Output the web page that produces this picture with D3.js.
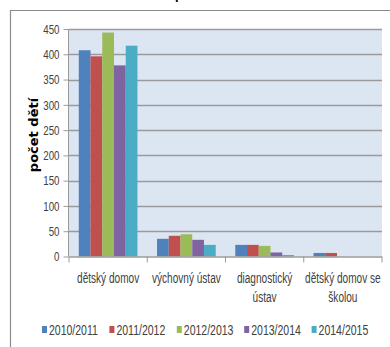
<!DOCTYPE html>
<html>
<head>
<meta charset="utf-8">
<script src="https://cdn.jsdelivr.net/npm/d3@7"></script>
<style>
  body { margin: 0; background: #fff; }
  svg { display: block; }
  .lbl { font-family: "Liberation Sans", Arial, sans-serif; fill: #404040; }
</style>
</head>
<body>
<div id="chart"></div>
<script>
// data
var categories = ["dětský domov", "výchovný ústav", "diagnostický ústav", "dětský domov se školou"];
var categoryLines = [["dětský domov"], ["výchovný ústav"], ["diagnostický", "ústav"], ["dětský domov se", "školou"]];
var years = ["2010/2011", "2011/2012", "2012/2013", "2013/2014", "2014/2015"];
var v2010 = [408, 35, 23, 7];
var v2011 = [396, 41, 23, 7];
var v2012 = [443, 44, 21, 0];
var v2013 = [378, 33, 8, 0];
var v2014 = [417, 23, 3, 0];
var yTicks = [0, 50, 100, 150, 200, 250, 300, 350, 400, 450];
var colors = ["#4f81bd", "#c0504d", "#9bbb59", "#8064a2", "#4bacc6"];

var series = [v2010, v2011, v2012, v2013, v2014];

var width = 390, height = 347;
var plotLeft = 69, plotRight = 382;

// squeeze text horizontally, narrow font look
function condense(sel, f) {
    sel.each(function() {
        var w = this.getComputedTextLength();
        d3.select(this).attr("textLength", w * f).attr("lengthAdjust", "spacingAndGlyphs");
    });
}

var svg = d3.select("#chart").append("svg")
    .attr("width", width)
    .attr("height", height);

// outer frame (only top and left visible)
svg.append("path")
    .attr("d", "M10.5,347 V10.5 H390")
    .attr("fill", "none")
    .attr("stroke", "#8c8c8c")
    .attr("stroke-width", 1.2);

// clipped title glyph at the very top
svg.append("text")
    .attr("x", 175)
    .attr("y", -1)
    .attr("font-family", "Liberation Sans, Arial, sans-serif")
    .attr("font-weight", "bold")
    .attr("font-size", 13)
    .attr("fill", "#000")
    .text("p");

var x0 = d3.scaleBand()
    .domain(categories)
    .range([plotLeft, plotRight])
    .paddingInner(0.25)
    .paddingOuter(0.125);

var x1 = d3.scaleBand()
    .domain(years)
    .range([0, x0.bandwidth()]);

var y = d3.scaleLinear()
    .domain([0, 450])
    .range([256.5, 29]);

// plot background
svg.append("rect")
    .attr("x", plotLeft)
    .attr("y", y(450))
    .attr("width", plotRight - plotLeft)
    .attr("height", y(0) - y(450))
    .attr("fill", "#dce6f2");

// gridlines
svg.append("g")
    .selectAll("line")
    .data(yTicks.filter(function(d) { return d > 0; }))
    .enter().append("line")
    .attr("x1", plotLeft)
    .attr("x2", plotRight)
    .attr("y1", function(d) { return Math.round(y(d)) + 0.5; })
    .attr("y2", function(d) { return Math.round(y(d)) + 0.5; })
    .attr("stroke", "#9a9a9a")
    .attr("stroke-width", 1.3);

// y axis
var yAxis = svg.append("g")
    .attr("transform", "translate(" + (plotLeft - 0.5) + ",0)")
    .call(d3.axisLeft(y).tickValues(yTicks).tickSize(5).tickPadding(4));
yAxis.select(".domain").attr("stroke", "#9a9a9a").attr("d", "M0," + y(450) + "V" + y(0));
yAxis.selectAll(".tick line").attr("stroke", "#9a9a9a");
yAxis.selectAll("text")
    .attr("class", "lbl")
    .attr("font-size", 13.5)
    .attr("fill", "#404040")
    .call(condense, 0.72);

// bars
var groups = svg.append("g")
    .selectAll("g")
    .data(categories)
    .enter().append("g")
    .attr("transform", function(d) { return "translate(" + x0(d) + ",0)"; });

groups.selectAll("rect")
    .data(function(d, i) { return years.map(function(yr, j) { return {year: yr, value: series[j][i], color: colors[j]}; }); })
    .enter().append("rect")
    .attr("x", function(d) { return x1(d.year); })
    .attr("y", function(d) { return y(d.value); })
    .attr("width", x1.bandwidth())
    .attr("height", function(d) { return y(0) - y(d.value); })
    .attr("fill", function(d) { return d.color; });

// x axis
var xAxis = svg.append("g");
xAxis.append("line")
    .attr("x1", plotLeft).attr("x2", plotRight)
    .attr("y1", y(0) + 0.5).attr("y2", y(0) + 0.5)
    .attr("stroke", "#9a9a9a").attr("stroke-width", 1.3);
xAxis.selectAll(".xt")
    .data(d3.range(categories.length + 1))
    .enter().append("line")
    .attr("x1", function(i) { return plotLeft + i * x0.step(); })
    .attr("x2", function(i) { return plotLeft + i * x0.step(); })
    .attr("y1", y(0)).attr("y2", y(0) + 6)
    .attr("stroke", "#9a9a9a");

xAxis.selectAll(".xl")
    .data(categories)
    .enter().append("text")
    .attr("class", "lbl")
    .attr("font-size", 14)
    .attr("text-anchor", "middle")
    .attr("y", 283)
    .each(function(d, i) {
        var t = d3.select(this);
        var cx = x0(d) + x0.bandwidth() / 2;
        categoryLines[i].forEach(function(line, k) {
            t.append("tspan")
                .attr("x", cx)
                .attr("dy", k === 0 ? 0 : 19)
                .text(line);
        });
    });
xAxis.selectAll("tspan").call(condense, 0.72);

// y axis title
svg.append("text")
    .attr("transform", "translate(38,135) rotate(-90)")
    .attr("text-anchor", "middle")
    .attr("font-family", "DejaVu Sans, sans-serif")
    .attr("font-weight", "bold")
    .attr("font-size", 13)
    .attr("fill", "#000")
    .text("počet dětí");

// legend
var legend = svg.append("g")
    .selectAll("g")
    .data(years)
    .enter().append("g")
    .attr("transform", function(d, i) { return "translate(" + (42 + i * 67.4) + ",326)"; });

legend.append("rect")
    .attr("width", 5)
    .attr("height", 7)
    .attr("fill", function(d, i) { return colors[i]; });

legend.append("text")
    .attr("class", "lbl")
    .attr("font-size", 14)
    .attr("x", 7)
    .attr("y", 9)
    .text(function(d) { return d; })
    .call(condense, 0.75);
</script>
</body>
</html>
